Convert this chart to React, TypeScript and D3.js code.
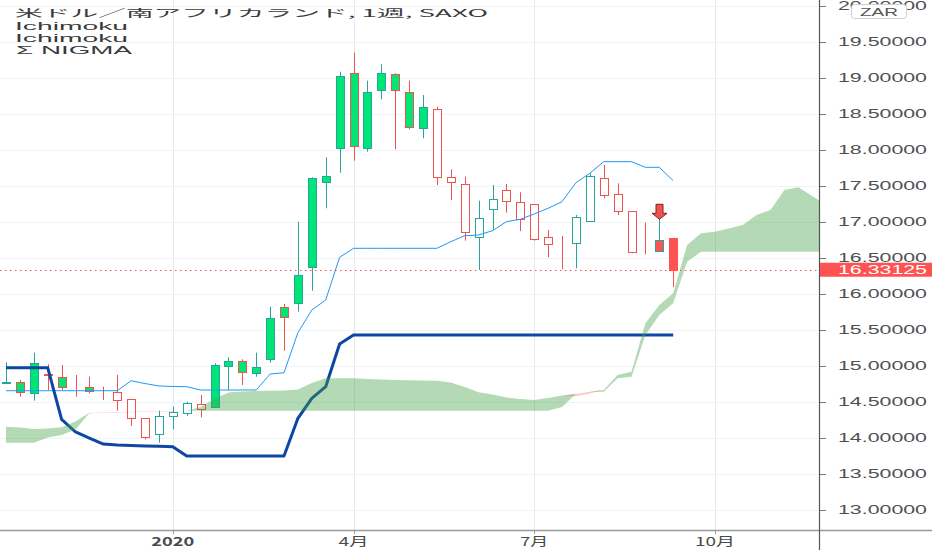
import React, { useRef, useEffect } from 'react';
import * as d3 from 'd3';

// 週足ローソク (2019年10月 〜 2020年9月)
const opens = [14.763, 14.776, 15.032, 14.875, 14.846, 14.705, 14.699, 14.636, 14.522, 14.268,
    14.013, 14.046, 14.300, 14.346, 14.393, 15.008, 15.068, 15.068, 14.985, 15.657,
    15.818, 16.258, 17.601, 17.633, 19.022, 19.060, 18.804, 19.060, 19.046, 18.804,
    18.588, 17.615, 17.554, 16.856, 16.790, 17.171, 17.290, 17.032, 16.758, 16.689,
    16.672, 16.699, 17.008, 17.369, 17.151, 16.582, 16.590, 16.744, 16.768];
const highs = [15.046, 14.800, 15.179, 15.018, 15.008, 14.869, 14.846, 14.707, 14.869, 14.532,
    14.268, 14.374, 14.429, 14.499, 14.592, 15.032, 15.115, 15.088, 15.179, 15.818,
    15.856, 16.999, 17.615, 17.893, 19.082, 19.346, 18.957, 19.185, 19.060, 18.957,
    18.758, 18.596, 17.726, 17.624, 17.290, 17.508, 17.522, 17.407, 17.240, 16.883,
    16.800, 17.092, 17.671, 17.786, 17.532, 17.147, 16.985, 17.046, 16.768];
const lows = [14.754, 14.568, 14.513, 14.661, 14.661, 14.568, 14.615, 14.522, 14.374, 14.161,
    13.976, 13.929, 14.115, 14.300, 14.282, 14.421, 14.661, 14.731, 14.846, 15.040,
    15.207, 15.749, 16.040, 17.185, 17.679, 17.846, 17.971, 18.699, 18.004, 18.282,
    18.157, 17.508, 17.300, 16.735, 16.328, 16.883, 17.124, 16.869, 16.735, 16.504,
    16.338, 16.351, 17.008, 17.324, 17.092, 16.560, 16.546, 16.582, 16.088];
const closes = [14.770, 14.629, 14.615, 14.883, 14.707, 14.709, 14.651, 14.640, 14.638, 14.532,
    14.268, 14.300, 14.360, 14.476, 14.467, 14.429, 14.999, 14.915, 14.901, 15.088,
    15.679, 15.865, 16.374, 17.554, 18.018, 18.050, 18.018, 18.828, 18.828, 18.318,
    18.296, 18.564, 17.615, 17.522, 17.054, 17.314, 17.439, 17.276, 17.240, 16.782,
    16.678, 17.060, 17.638, 17.601, 17.383, 17.147, 16.594, 16.596, 16.33125];
// 足の種類 gf:緑塗り gfr:緑塗り赤枠 rh:赤中抜き th:緑中抜き rf:赤塗り rft:赤塗り緑枠
const bodyKinds = ['th', 'gfr', 'gf', 'rh', 'gfr', 'rh', 'gfr', 'rh', 'rh', 'rh',
    'rh', 'th', 'th', 'th', 'rh', 'gf', 'gf', 'gfr', 'gf', 'gf',
    'gfr', 'gf', 'gf', 'gf', 'gf', 'gfr', 'gf', 'gf', 'gfr', 'gfr',
    'gf', 'rh', 'rh', 'rh', 'th', 'th', 'rh', 'rh', 'rh', 'rh',
    'rh', 'th', 'th', 'rh', 'rh', 'rh', 'rh', 'rft', 'rf'];

// 細い青線
const fastLine = [14.651, 14.651, 14.651, 14.651, 14.651, 14.651, 14.651, 14.651, 14.651, 14.790,
    14.751, 14.717, 14.710, 14.707, 14.661, 14.661, 14.661, 14.661, 14.661, 14.883,
    14.901, 15.457, 15.772, 15.911, 16.504, 16.629, 16.629, 16.629, 16.629, 16.629,
    16.629, 16.629, 16.721, 16.804, 16.814, 16.874, 16.999, 17.032, 17.106, 17.185,
    17.276, 17.540, 17.671, 17.832, 17.832, 17.832, 17.754, 17.754, 17.568];
// 太い紺線
const slowLine = [14.971, 14.971, 14.971, 14.971, 14.254, 14.078, 13.994, 13.911, 13.897, 13.892,
    13.885, 13.880, 13.874, 13.744, 13.744, 13.744, 13.744, 13.744, 13.744, 13.744,
    13.744, 14.268, 14.546, 14.707, 15.300, 15.425, 15.425, 15.425, 15.425, 15.425,
    15.425, 15.425, 15.425, 15.425, 15.425, 15.425, 15.425, 15.425, 15.425, 15.425,
    15.425, 15.425, 15.425, 15.425, 15.425, 15.425, 15.425, 15.425, 15.425];
// 雲 (先行スパン)
const spanA = [14.151, 14.140, 14.119, 14.126, 14.143, 14.224, 14.335, 14.345, 14.350, 14.352,
    14.355, 14.355, 14.358, 14.372, 14.425, 14.536, 14.626, 14.640, 14.647, 14.651,
    14.654, 14.668, 14.758, 14.824, 14.824, 14.824, 14.814, 14.807, 14.800, 14.796,
    14.793, 14.790, 14.765, 14.703, 14.629, 14.599, 14.557, 14.536, 14.522, 14.550,
    14.585, 14.576, 14.613, 14.661, 14.869, 14.915, 15.588, 15.842, 16.004, 16.675,
    16.838, 16.860, 16.904, 16.953, 17.092, 17.161, 17.439, 17.476, 17.356, 17.231];
const spanB = [13.929, 13.929, 13.929, 14.001, 14.036, 14.113, 14.340, 14.352, 14.357, 14.360,
    14.362, 14.362, 14.365, 14.372, 14.374, 14.374, 14.374, 14.374, 14.374, 14.374,
    14.374, 14.374, 14.374, 14.374, 14.374, 14.374, 14.374, 14.374, 14.374, 14.374,
    14.374, 14.374, 14.374, 14.374, 14.374, 14.374, 14.374, 14.374, 14.374, 14.374,
    14.425, 14.606, 14.638, 14.638, 14.824, 14.846, 15.425, 15.703, 15.865, 16.443,
    16.582, 16.582, 16.582, 16.582, 16.582, 16.582, 16.582, 16.582, 16.582, 16.582];

const signalBars = [47];
const lastPrice = 16.33125;

const priceTicks = [13, 13.5, 14, 14.5, 15, 15.5, 16, 16.5, 17, 17.5, 18, 18.5, 19, 19.5, 20];
const timeTickBars = [12, 25, 38, 51];
const timeTickLabels = ['2020', '4月', '7月', '10月'];
const timeTickWidths = [43, 30, 28, 40];

const titleText = '米ドル／南アフリカランド, 1週, SAXO';
const legendLines = ['Ichimoku', 'Ichimoku', 'Σ NIGMA'];

const kindColors: Record<string, { fill: string; stroke: string }> = {
    gf: { fill: '#00e676', stroke: '#26a69a' },
    gfr: { fill: '#00e676', stroke: '#ef5350' },
    rh: { fill: '#ffffff', stroke: '#ef5350' },
    th: { fill: '#ffffff', stroke: '#26a69a' },
    rf: { fill: '#ff5252', stroke: '#ff5252' },
    rft: { fill: '#ff5252', stroke: '#26a69a' },
};

const Chart: React.FC = () => {
    const ref = useRef<HTMLDivElement>(null);

    useEffect(() => {
        const container = d3.select(ref.current);
        container.selectAll('*').remove();

        const width = 932;
        const height = 550;
        const plotRight = 820;
        const plotBottom = 530;
        const latin = "'Liberation Sans', Arial, sans-serif";

        const svg = container.append('svg')
            .attr('width', width)
            .attr('height', height)
            .style('position', 'absolute')
            .style('left', '0px')
            .style('top', '0px')
            .style('background', '#ffffff');

        // スケール (バー番号 → x, 価格 → y)
        const x = d3.scaleLinear().domain([0, 48]).range([6, 673.2]);
        const y = d3.scaleLinear().domain([13, 19.5]).range([509.6, 41.6]);

        svg.append('defs').append('clipPath')
            .attr('id', 'plot-clip')
            .append('rect')
            .attr('x', 0).attr('y', 0)
            .attr('width', plotRight).attr('height', plotBottom);

        // グリッド
        svg.append('g').selectAll('line')
            .data(priceTicks)
            .enter()
            .append('line')
            .attr('x1', 0).attr('x2', plotRight)
            .attr('y1', d => Math.round(y(d)) + 0.5)
            .attr('y2', d => Math.round(y(d)) + 0.5)
            .attr('stroke', '#f0f3f6');

        svg.append('g').selectAll('line')
            .data(timeTickBars)
            .enter()
            .append('line')
            .attr('x1', d => Math.round(x(d)) + 0.5)
            .attr('x2', d => Math.round(x(d)) + 0.5)
            .attr('y1', 0).attr('y2', plotBottom)
            .attr('stroke', '#e3e9ee');

        const plot = svg.append('g').attr('clip-path', 'url(#plot-clip)');

        // ローソク足 (ピクセルに揃えて描く)
        const idx = d3.range(opens.length);
        const candles = plot.append('g').selectAll('g')
            .data(idx)
            .enter()
            .append('g');

        candles.append('line')
            .attr('x1', i => Math.round(x(i)) + 0.5)
            .attr('x2', i => Math.round(x(i)) + 0.5)
            .attr('y1', i => y(highs[i]))
            .attr('y2', i => y(lows[i]))
            .attr('stroke', i => kindColors[bodyKinds[i]].stroke)
            .attr('stroke-width', 1);

        candles.append('rect')
            .attr('x', i => Math.round(x(i)) - 3.5)
            .attr('width', 8)
            .attr('y', i => Math.round(y(Math.max(opens[i], closes[i]))) + 0.5)
            .attr('height', i => Math.max(0, Math.round(y(Math.min(opens[i], closes[i])))
                - Math.round(y(Math.max(opens[i], closes[i])))))
            .attr('fill', i => kindColors[bodyKinds[i]].fill)
            .attr('stroke', i => kindColors[bodyKinds[i]].stroke)
            .attr('stroke-width', 1);

        // 線
        const lineGen = d3.line<number>()
            .x((_, i) => x(i))
            .y(d => y(d));

        plot.append('path')
            .attr('d', lineGen(fastLine))
            .attr('fill', 'none')
            .attr('stroke', '#2196f3')
            .attr('stroke-width', 1);

        plot.append('path')
            .attr('d', lineGen(slowLine))
            .attr('fill', 'none')
            .attr('stroke', '#0d47a1')
            .attr('stroke-width', 3)
            .attr('stroke-linejoin', 'round');

        // 雲
        const cloudIdx = d3.range(spanA.length);
        const greenArea = d3.area<number>()
            .x(i => x(i))
            .y0(i => y(spanB[i]))
            .y1(i => y(Math.max(spanA[i], spanB[i])));
        const redArea = d3.area<number>()
            .x(i => x(i))
            .y0(i => y(spanA[i]))
            .y1(i => y(Math.max(spanA[i], spanB[i])));

        plot.append('path')
            .attr('d', greenArea(cloudIdx))
            .attr('fill', '#43a047')
            .attr('fill-opacity', 0.4);
        plot.append('path')
            .attr('d', redArea(cloudIdx))
            .attr('fill', '#ef5350')
            .attr('fill-opacity', 0.3);

        // シグナル矢印
        plot.append('g').selectAll('path')
            .data(signalBars)
            .enter()
            .append('path')
            .attr('d', i => {
                const cx = Math.round(x(i)) + 0.5;
                const tip = y(highs[i]) + 1;
                return `M${cx - 3.5},${tip - 15} L${cx + 3.5},${tip - 15} L${cx + 3.5},${tip - 6} ` +
                    `L${cx + 7.5},${tip - 6} L${cx},${tip} L${cx - 7.5},${tip - 6} L${cx - 3.5},${tip - 6} Z`;
            })
            .attr('fill', '#ef5350')
            .attr('stroke', '#8e1c1c')
            .attr('stroke-width', 1);

        // 現在値ライン
        plot.append('line')
            .attr('x1', 0).attr('x2', plotRight)
            .attr('y1', Math.round(y(lastPrice)) + 0.5)
            .attr('y2', Math.round(y(lastPrice)) + 0.5)
            .attr('stroke', '#ef5350')
            .attr('stroke-width', 1)
            .attr('stroke-dasharray', '1.5,3.5');

        // 軸
        svg.append('line')
            .attr('x1', 0).attr('x2', width)
            .attr('y1', plotBottom + 0.5).attr('y2', plotBottom + 0.5)
            .attr('stroke', '#9a9a9a')
            .attr('stroke-width', 1.5);
        svg.append('line')
            .attr('x1', plotRight - 0.5).attr('x2', plotRight - 0.5)
            .attr('y1', 0).attr('y2', height)
            .attr('stroke', '#555555')
            .attr('stroke-width', 1.2);

        const yAxis = svg.append('g');
        yAxis.selectAll('line')
            .data(priceTicks)
            .enter()
            .append('line')
            .attr('x1', plotRight).attr('x2', plotRight + 6)
            .attr('y1', d => Math.round(y(d)) + 0.5)
            .attr('y2', d => Math.round(y(d)) + 0.5)
            .attr('stroke', '#777777');
        yAxis.selectAll('text')
            .data(priceTicks)
            .enter()
            .append('text')
            .attr('x', 838)
            .attr('y', d => y(d) + 4.5)
            .attr('textLength', 89)
            .attr('lengthAdjust', 'spacingAndGlyphs')
            .style('font-family', latin)
            .style('font-size', '12px')
            .style('fill', '#505050')
            .text(d => d.toFixed(5));

        const xAxis = svg.append('g');
        xAxis.selectAll('line')
            .data(timeTickBars)
            .enter()
            .append('line')
            .attr('x1', d => Math.round(x(d)) + 0.5)
            .attr('x2', d => Math.round(x(d)) + 0.5)
            .attr('y1', plotBottom).attr('y2', plotBottom + 4)
            .attr('stroke', '#9a9a9a');
        xAxis.selectAll('text')
            .data(timeTickBars)
            .enter()
            .append('text')
            .attr('x', (d, i) => x(d) - timeTickWidths[i] / 2)
            .attr('y', 545.5)
            .attr('textLength', (_, i) => timeTickWidths[i])
            .attr('lengthAdjust', 'spacingAndGlyphs')
            .style('font-family', "'Noto Sans CJK JP', " + latin)
            .style('font-size', '12px')
            .style('font-weight', (_, i) => /^\d{4}$/.test(timeTickLabels[i]) ? 'bold' : 'normal')
            .style('fill', '#4a4a4a')
            .text((_, i) => timeTickLabels[i]);

        // 通貨ボックス
        svg.append('rect')
            .attr('x', 851.5).attr('y', 4.5)
            .attr('width', 55).attr('height', 14)
            .attr('rx', 3)
            .attr('fill', '#ffffff')
            .attr('stroke', '#cfcfcf');
        svg.append('text')
            .attr('x', 860).attr('y', 15.5)
            .attr('textLength', 38)
            .attr('lengthAdjust', 'spacingAndGlyphs')
            .style('font-family', latin)
            .style('font-size', '11px')
            .style('fill', '#555555')
            .text('ZAR');

        // 現在値ラベル
        svg.append('rect')
            .attr('x', plotRight)
            .attr('y', y(lastPrice) - 7)
            .attr('width', width - plotRight)
            .attr('height', 14)
            .attr('fill', '#ff5252');
        svg.append('text')
            .attr('x', 838)
            .attr('y', y(lastPrice) + 4.5)
            .attr('textLength', 89)
            .attr('lengthAdjust', 'spacingAndGlyphs')
            .style('font-family', latin)
            .style('font-size', '12px')
            .style('fill', '#ffffff')
            .text(lastPrice.toFixed(5));

        // タイトルと凡例
        svg.append('text')
            .attr('x', 15).attr('y', 16.5)
            .attr('textLength', 473)
            .attr('lengthAdjust', 'spacingAndGlyphs')
            .style('font-family', "'Noto Sans CJK JP', sans-serif")
            .style('font-size', '10.5px')
            .style('fill', '#3a3a3a')
            .text(titleText);

        svg.append('g').selectAll('text')
            .data(legendLines)
            .enter()
            .append('text')
            .attr('x', (_, i) => (i === 2 ? 16 : 15))
            .attr('y', (_, i) => 29.5 + i * 12)
            .attr('textLength', (_, i) => (i === 2 ? 116 : 113))
            .attr('lengthAdjust', 'spacingAndGlyphs')
            .style('font-family', latin)
            .style('font-size', '10.5px')
            .style('fill', '#3a3a3a')
            .text(d => d);
    }, []);

    return <div ref={ref} />;
};

export default function App() {
    return <Chart />;
}
